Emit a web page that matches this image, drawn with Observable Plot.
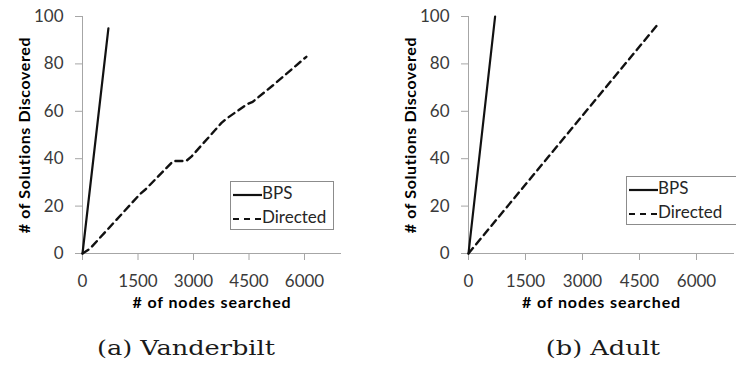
<!DOCTYPE html>
<html>
<head>
<meta charset="utf-8">
<script src="https://cdn.jsdelivr.net/npm/d3@7"></script>
<script src="https://cdn.jsdelivr.net/npm/@observablehq/plot@0.6"></script>
<style>
  html, body { margin: 0; padding: 0; background: #fff; overflow: hidden; }
  #wrap { position: relative; width: 736px; height: 371px; }
  .panel { position: absolute; top: 0; width: 368px; height: 320px; }
  .panel svg g[aria-label="x-axis tick"], .panel svg g[aria-label="y-axis tick"] { stroke: #a6a6a6; }
  .panel svg g[aria-label="x-axis tick label"], .panel svg g[aria-label="y-axis tick label"] { fill: #3a3a3a; }
  .panel svg g[aria-label="x-axis label"] { fill: #000; font-weight: bold; font-size: 16px; letter-spacing: 0.9px; }
  .panel svg g[aria-label="y-axis label"] { fill: #000; font-weight: bold; font-size: 16px; letter-spacing: 0.6px; }
  .caption { position: absolute; top: 336px; width: 300px; text-align: center;
    font-family: "DejaVu Serif", "Liberation Serif", serif; font-size: 20px; color: #1a1a1a;
    transform: scaleX(1.28); }
  .legend { position: absolute; border: 1px solid #8c8c8c; background: #fff;
    font-family: Lato, "Open Sans", sans-serif; font-size: 17px; color: #262626; box-sizing: border-box; }
  .legend .row { position: absolute; left: 0; height: 20px; line-height: 20px; white-space: nowrap; }
  .legend svg { vertical-align: middle; }
</style>
</head>
<body>
<div id="wrap">
  <div class="panel" id="left" style="left:0"></div>
  <div class="panel" id="right" style="left:368px"></div>
  <div class="caption" style="left:36px">(a) Vanderbilt</div>
  <div class="caption" style="left:453px">(b) Adult</div>
</div>
<script>
// ---- data ----
const seriesNames = ["BPS", "Directed"];
const xTicks = [0, 1500, 3000, 4500, 6000];
const yTicks = [0, 20, 40, 60, 80, 100];

// (a) Vanderbilt
const vanBpsX = [0, 700];
const vanBpsY = [0, 95];
const vanDirX = [0, 200, 1550, 1700, 2450, 2800, 2950, 3750, 3900, 4450, 4600, 5150, 6050];
const vanDirY = [0, 2, 25, 27, 39, 39, 41, 55, 57, 63, 64, 71, 83];

// (b) Adult
const adBpsX = [0, 700];
const adBpsY = [0, 100];
const adDirX = [0, 5000];
const adDirY = [0, 97];

function rows(xs, ys, name) { return xs.map((x, i) => ({x, y: ys[i], s: name})); }

function makePlot(bpsX, bpsY, dirX, dirY, marginLeft, marginRight) {
  const bps = rows(bpsX, bpsY, seriesNames[0]);
  const dir = rows(dirX, dirY, seriesNames[1]);
  const svg = Plot.plot({
    width: 368,
    height: 320,
    marginLeft,
    marginRight,
    marginTop: 16,
    marginBottom: 67,
    style: { fontFamily: "Lato, 'Open Sans', sans-serif", fontSize: "17px", background: "transparent", overflow: "visible" },
    x: { domain: [0, 7000], ticks: xTicks, tickFormat: d => String(d), tickSize: 7, tickPadding: 14,
         label: "# of nodes searched", labelAnchor: "center", labelOffset: 54, labelArrow: "none" },
    y: { domain: [0, 100], ticks: yTicks, tickFormat: d => String(d), tickSize: 7, tickPadding: 12,
         label: "# of Solutions Discovered", labelAnchor: "center", labelOffset: 64, labelArrow: "none" },
    marks: [
      Plot.ruleY([0], { stroke: "#a6a6a6" }),
      Plot.ruleX([0], { stroke: "#a6a6a6" }),
      Plot.line(dir, { x: "x", y: "y", stroke: "#111", strokeWidth: 2.4, strokeDasharray: "7,5" }),
      Plot.line(bps, { x: "x", y: "y", stroke: "#111", strokeWidth: 2.2 })
    ]
  });
  // strip any automatic arrows from axis labels
  svg.querySelectorAll('g[aria-label$="axis label"] text').forEach(t => {
    t.textContent = t.textContent.replace(/[↑↓→←]/g, "").trim();
  });
  return svg;
}

document.getElementById("left").appendChild(makePlot(vanBpsX, vanBpsY, vanDirX, vanDirY, 82, 27));
document.getElementById("right").appendChild(makePlot(adBpsX, adBpsY, adDirX, adDirY, 100, 2));

function legend(left, top, width) {
  const d = document.createElement("div");
  d.className = "legend";
  d.style.left = left + "px"; d.style.top = top + "px";
  d.style.width = width + "px"; d.style.height = "49px";
  const dashes = ["", "6,5"];
  seriesNames.forEach((name, i) => {
    const r = document.createElement("div");
    r.className = "row";
    r.style.top = (i === 0 ? 1 : 25) + "px";
    r.style.left = "1px";
    r.innerHTML = `<svg width="30" height="20"><line x1="1" x2="30" y1="10" y2="10" stroke="#111" stroke-width="2.2" ${dashes[i] ? `stroke-dasharray="${dashes[i]}"` : ""}/></svg><span>${name}</span>`;
    d.appendChild(r);
  });
  document.getElementById("wrap").appendChild(d);
}
legend(230, 181, 104);
legend(626, 176, 116);
</script>
</body>
</html>
